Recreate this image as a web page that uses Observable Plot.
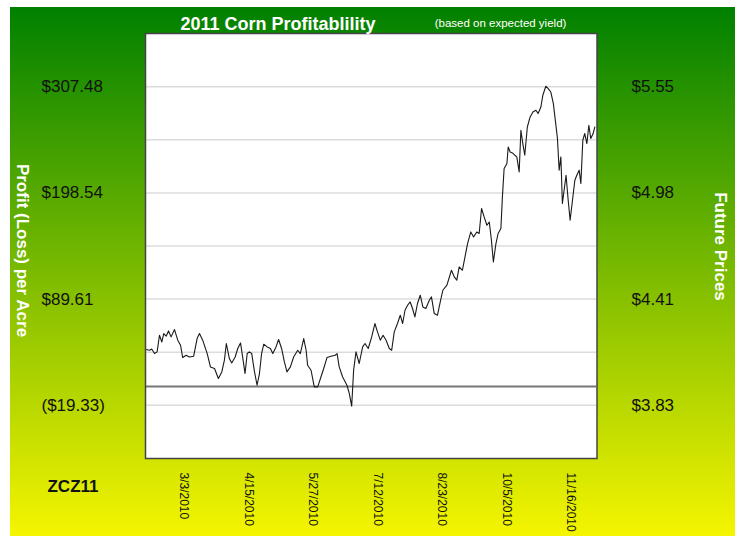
<!DOCTYPE html>
<html><head><meta charset="utf-8">
<script src="https://cdn.jsdelivr.net/npm/d3@7"></script>
<script src="https://cdn.jsdelivr.net/npm/@observablehq/plot@0.6"></script>
<style>
html,body{margin:0;padding:0;background:#fff;}
#page{position:relative;width:741px;height:536px;background:#fff;overflow:hidden;}
#panel{position:absolute;left:10px;top:7px;width:725px;height:529px;background:linear-gradient(to bottom,#008000 0%,#f5f500 100%);}
</style></head><body><div id="page"><div id="panel"></div></div>
<script>
// ---- data ----
const chartTitle = "2011 Corn Profitablility";
const chartSubtitle = "(based on expected yield)";
const leftTitle = "Profit (Loss) per Acre";
const rightTitle = "Future Prices";
const contractLabel = "ZCZ11";

// trading-day index (x) and profit per acre in $ (y)
const days = [0.3,1.9,2.9,4.2,5.4,6.5,7.6,8.5,9.6,10.7,11.9,13.5,15.0,16.3,17.3,18.9,20.4,22.4,24.0,25.1,26.6,28.7,30.2,32.1,33.9,35.5,36.7,37.6,39.0,40.1,41.7,42.9,44.2,45.4,46.3,47.3,48.3,49.4,50.7,51.9,53.0,54.0,55.0,56.6,58.1,59.2,60.7,61.9,63.3,64.6,65.8,67.4,68.9,70.8,72.0,73.6,74.7,75.4,77.0,78.5,80.1,81.6,82.9,84.4,86.3,88.2,89.1,90.1,91.7,93.7,94.8,95.9,96.8,97.9,99.4,101.0,102.1,103.6,105.2,106.7,107.9,109.2,110.5,111.9,113.4,114.5,115.7,117.2,118.5,119.6,120.7,121.9,123.1,124.2,125.3,126.5,127.8,129.0,130.4,132.0,133.0,134.3,135.8,137.1,138.3,140.2,142.3,143.6,144.8,145.9,147.4,148.6,149.8,151.3,152.6,154.1,155.2,156.3,157.5,158.8,159.9,160.9,161.8,163.0,164.0,165.3,166.0,166.8,168.1,168.7,169.6,170.7,171.8,172.7,173.8,174.6,175.5,176.4,177.6,178.9,180.2,181.6,182.6,183.9,184.8,186.2,187.3,188.5,189.7,190.8,191.6,192.4,193.2,193.9,194.7,195.6,196.6,197.5,198.6,199.7,200.6,201.7,202.5,203.4,204.3,205.3,206.2,207.1,208.2,209.0];
const profit = [37.9,37.2,38.5,33.8,35.5,52.6,45.7,54.3,51.6,57.0,50.9,58.4,47.5,42.3,29.7,32.1,30.3,31.1,49.2,54.3,47.5,33.8,20.1,18.5,8.2,15.0,27.0,44.1,28.7,24.2,30.3,39.0,44.7,27.0,13.3,33.8,35.5,33.8,15.0,1.3,13.3,33.8,43.4,40.6,39.0,33.8,40.6,48.2,39.0,25.2,15.0,20.1,30.3,37.2,33.8,49.2,37.2,21.8,16.7,-0.4,-0.4,9.8,18.5,29.7,31.1,32.1,33.8,20.1,9.8,1.3,-7.2,-20.2,16.7,35.5,23.6,40.6,44.1,39.0,50.9,64.6,56.0,47.5,52.6,47.5,39.0,37.2,56.0,64.6,73.1,64.6,78.2,83.3,86.7,80.0,71.4,85.1,93.6,81.6,80.0,88.5,91.9,74.8,73.1,86.7,98.7,103.9,119.2,112.4,109.0,122.6,119.2,132.9,146.6,158.5,153.4,158.5,156.9,182.5,173.9,165.4,168.7,150.0,127.7,146.6,156.9,162.0,194.4,223.5,228.6,245.6,240.5,239.5,237.1,235.4,220.0,262.8,249.1,237.1,266.1,276.4,281.5,283.3,279.9,286.6,298.6,307.9,305.5,302.0,290.1,269.6,254.3,221.8,235.4,187.6,201.2,216.6,191.0,170.5,191.0,211.5,216.6,221.8,208.1,252.5,259.4,249.1,267.9,254.3,259.4,266.1];

const dayDomain = [0, 210];
const profitDomain = [-73.8, 361.95];

const tickDays = [18, 48, 78, 108, 138, 168, 198];
const dateLabels = ["3/3/2010","4/15/2010","5/27/2010","7/12/2010","8/23/2010","10/5/2010","11/16/2010"];

const profitTicks = [307.48, 198.54, 89.61, -19.33];
const profitLabels = ["$307.48","$198.54","$89.61","($19.33)"];
const priceLabels = ["$5.55","$4.98","$4.41","$3.83"];
const gridValues = [307.48, 253.01, 198.54, 144.07, 89.61, 35.14, -19.33];
const zeroLine = [0];

// ---- chart ----
const series = days.map((d, i) => ({day: d, profit: profit[i]}));

const chart = Plot.plot({
  width: 725, height: 529,
  marginLeft: 135, marginRight: 138.5, marginTop: 26, marginBottom: 78,
  style: {background: "transparent", fontFamily: "'Liberation Sans', Arial, sans-serif", color: "#111", overflow: "visible"},
  x: {domain: dayDomain},
  y: {domain: profitDomain},
  marks: [
    Plot.frame({fill: "white"}),
    Plot.ruleY(gridValues, {stroke: "#dcdcdc", strokeWidth: 1.5}),
    Plot.ruleY(zeroLine, {stroke: "#777", strokeWidth: 2}),
    Plot.line(series, {x: "day", y: "profit", stroke: "#1a1a1a", strokeWidth: 1.1}),
    Plot.frame({stroke: "#444", strokeWidth: 1.5}),
    Plot.axisY(profitTicks, {anchor: "left", label: null, tickSize: 0, tickPadding: 0, textAnchor: "start", dx: -104, fontSize: 17,
      tickFormat: d => profitLabels[profitTicks.indexOf(d)]}),
    Plot.axisY(profitTicks, {anchor: "right", label: null, tickSize: 0, tickPadding: 0, textAnchor: "start", dx: 34.5, fontSize: 17,
      tickFormat: d => priceLabels[profitTicks.indexOf(d)]}),
    Plot.axisX(tickDays, {anchor: "bottom", label: null, tickSize: 0, tickPadding: 14, tickRotate: 90, fontSize: 12,
      tickFormat: d => dateLabels[tickDays.indexOf(d)]}),
    Plot.text([chartTitle], {text: d => d, frameAnchor: "top-left", dx: 132.5, dy: -9.7, fontSize: 18, fontWeight: "bold", fill: "white", textAnchor: "middle", lineAnchor: "middle"}),
    Plot.text([chartSubtitle], {text: d => d, frameAnchor: "top-left", dx: 355, dy: -10, fontSize: 11.5, fill: "white", textAnchor: "middle", lineAnchor: "middle"}),
    Plot.text([leftTitle], {text: d => d, frameAnchor: "top-left", dx: -123.3, dy: 217, rotate: 90, fontSize: 17, fontWeight: "bold", fill: "white", textAnchor: "middle", lineAnchor: "middle"}),
    Plot.text([rightTitle], {text: d => d, frameAnchor: "top-left", dx: 575, dy: 213, rotate: 90, fontSize: 17, fontWeight: "bold", fill: "white", textAnchor: "middle", lineAnchor: "middle"}),
    Plot.text([contractLabel], {text: d => d, frameAnchor: "top-left", dx: -72.5, dy: 453, fontSize: 17, fontWeight: "bold", fill: "#111", textAnchor: "middle", lineAnchor: "middle"})
  ]
});
document.getElementById("panel").appendChild(chart);
</script>
</body></html>
